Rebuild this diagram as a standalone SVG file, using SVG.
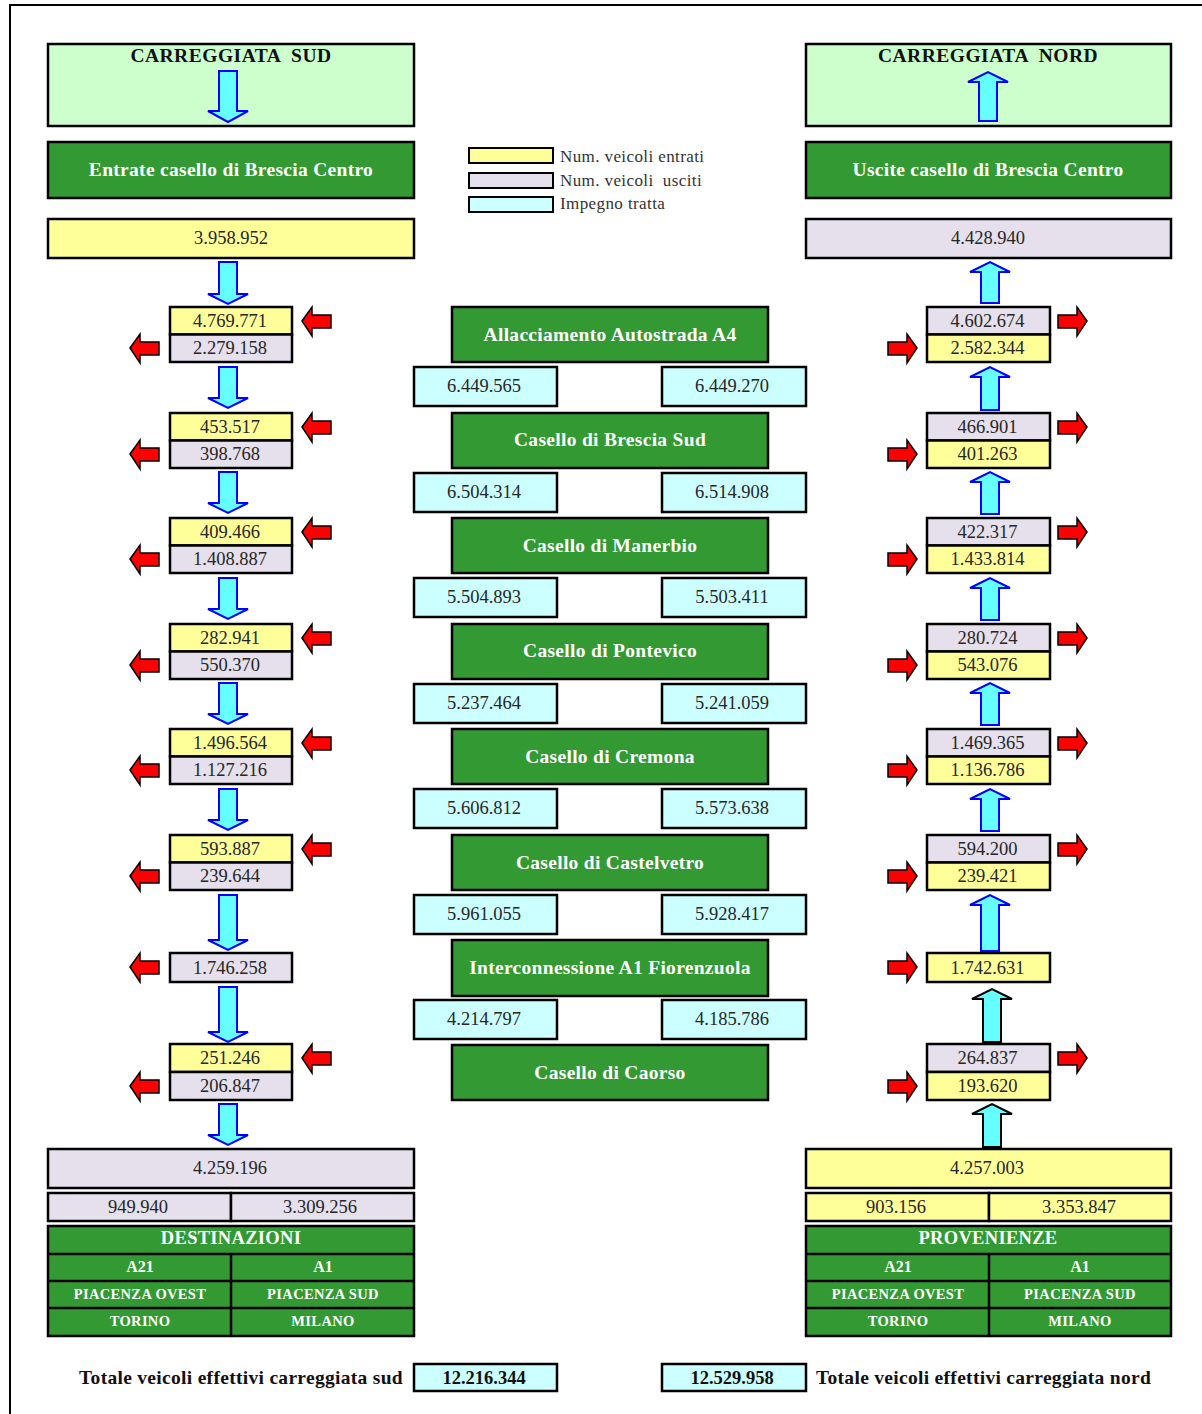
<svg xmlns="http://www.w3.org/2000/svg" xmlns:xlink="http://www.w3.org/1999/xlink" width="1202" height="1414" viewBox="0 0 1202 1414">
<style>
.b{stroke:#000;stroke-width:2.5}
.y{fill:#FFFF99}.p{fill:#E5E0EC}.c{fill:#CCFFFF}.g{fill:#339933}.lg{fill:#CCFFCC}
.t{font-family:"Liberation Serif",serif;font-size:18.5px;fill:#262626;text-anchor:middle}
.gt{font-family:"Liberation Serif",serif;font-size:19.5px;letter-spacing:0.3px;font-weight:bold;fill:#fff;text-anchor:middle}
.ht{font-family:"Liberation Serif",serif;font-size:19.5px;letter-spacing:0.5px;font-weight:bold;fill:#111;text-anchor:middle;white-space:pre}
.lt{font-family:"Liberation Serif",serif;font-size:17px;letter-spacing:0.4px;fill:#333;white-space:pre}
.tb1{font-family:"Liberation Serif",serif;font-size:18.5px;letter-spacing:0.3px;font-weight:bold;fill:#fff;text-anchor:middle}
.tb2{font-family:"Liberation Serif",serif;font-size:16px;font-weight:bold;fill:#fff;text-anchor:middle}
.tb3{font-family:"Liberation Serif",serif;font-size:14.5px;letter-spacing:0.35px;font-weight:bold;fill:#fff;text-anchor:middle}
.tot{font-family:"Liberation Serif",serif;font-size:19.5px;letter-spacing:0.3px;font-weight:bold;fill:#111}
.totn{font-family:"Liberation Serif",serif;font-size:18.5px;font-weight:bold;fill:#111;text-anchor:middle}
.ca{fill:#66FFFF;stroke:#0000FF;stroke-width:2}
.ck{fill:#66FFFF;stroke:#000;stroke-width:2}
.ra{fill:#FF0000;stroke:#000;stroke-width:1.5}
.tl{stroke:#000;stroke-width:2.5}
</style>
<defs>
<path id="rl" d="M0 0L10 -14V-6H29V7H10V15Z"/>
<path id="rr" d="M0 0L-10 -14V-6H-29V7H-10V15Z"/>
</defs>
<path d="M10 1414V5H1202" fill="none" stroke="#000" stroke-width="2"/>

<g id="header-sud">
<rect x="48" y="44" width="366" height="82" class="lg b"/>
<text x="231" y="62" class="ht">CARREGGIATA  SUD</text>
</g>
<g id="header-nord">
<rect x="806" y="44" width="365" height="82" class="lg b"/>
<text x="988" y="62" class="ht">CARREGGIATA  NORD</text>
</g>
<g id="entrate-bc">
<rect x="48" y="142" width="366" height="56" class="g b"/>
<text x="231" y="176" class="gt">Entrate casello di Brescia Centro</text>
</g>
<g id="uscite-bc">
<rect x="806" y="142" width="365" height="56" class="g b"/>
<text x="988" y="176" class="gt">Uscite casello di Brescia Centro</text>
</g>
<g id="legend">
<rect x="469" y="148" width="84" height="15" class="y" stroke="#000" stroke-width="2"/>
<rect x="469" y="173" width="84" height="15" class="p" stroke="#000" stroke-width="2"/>
<rect x="469" y="197" width="84" height="15" class="c" stroke="#000" stroke-width="2"/>
<text x="560" y="162" class="lt">Num. veicoli entrati</text>
<text x="560" y="186" class="lt">Num. veicoli  usciti</text>
<text x="560" y="209" class="lt">Impegno tratta</text>
</g>
<g id="in-sud">
<rect x="48" y="219" width="366" height="39" class="y b"/>
<text x="231" y="244" class="t">3.958.952</text>
</g>
<g id="out-nord">
<rect x="806" y="219" width="365" height="39" class="p b"/>
<text x="988" y="244" class="t">4.428.940</text>
</g>

<g id="sud-1"><rect x="170" y="307" width="122" height="27.5" class="y b"/><rect x="170" y="334.5" width="122" height="27.5" class="p b"/><text x="230" y="327" class="t">4.769.771</text><text x="230" y="354" class="t">2.279.158</text></g>
<g id="sud-2"><rect x="170" y="413" width="122" height="27.5" class="y b"/><rect x="170" y="440.5" width="122" height="27.5" class="p b"/><text x="230" y="433" class="t">453.517</text><text x="230" y="460" class="t">398.768</text></g>
<g id="sud-3"><rect x="170" y="518" width="122" height="27.5" class="y b"/><rect x="170" y="545.5" width="122" height="27.5" class="p b"/><text x="230" y="538" class="t">409.466</text><text x="230" y="565" class="t">1.408.887</text></g>
<g id="sud-4"><rect x="170" y="624" width="122" height="27.5" class="y b"/><rect x="170" y="651.5" width="122" height="27.5" class="p b"/><text x="230" y="644" class="t">282.941</text><text x="230" y="671" class="t">550.370</text></g>
<g id="sud-5"><rect x="170" y="729" width="122" height="27.5" class="y b"/><rect x="170" y="756.5" width="122" height="27.5" class="p b"/><text x="230" y="749" class="t">1.496.564</text><text x="230" y="776" class="t">1.127.216</text></g>
<g id="sud-6"><rect x="170" y="835" width="122" height="27.5" class="y b"/><rect x="170" y="862.5" width="122" height="27.5" class="p b"/><text x="230" y="855" class="t">593.887</text><text x="230" y="882" class="t">239.644</text></g>
<g id="sud-7"><rect x="170" y="953" width="122" height="29" class="p b"/><text x="230" y="974" class="t">1.746.258</text></g>
<g id="sud-8"><rect x="170" y="1044" width="122" height="28" class="y b"/><rect x="170" y="1072" width="122" height="28" class="p b"/><text x="230" y="1064" class="t">251.246</text><text x="230" y="1092" class="t">206.847</text></g>

<g id="nord-1"><rect x="927" y="307" width="123" height="27.5" class="p b"/><rect x="927" y="334.5" width="123" height="27.5" class="y b"/><text x="987.5" y="327" class="t">4.602.674</text><text x="987.5" y="354" class="t">2.582.344</text></g>
<g id="nord-2"><rect x="927" y="413" width="123" height="27.5" class="p b"/><rect x="927" y="440.5" width="123" height="27.5" class="y b"/><text x="987.5" y="433" class="t">466.901</text><text x="987.5" y="460" class="t">401.263</text></g>
<g id="nord-3"><rect x="927" y="518" width="123" height="27.5" class="p b"/><rect x="927" y="545.5" width="123" height="27.5" class="y b"/><text x="987.5" y="538" class="t">422.317</text><text x="987.5" y="565" class="t">1.433.814</text></g>
<g id="nord-4"><rect x="927" y="624" width="123" height="27.5" class="p b"/><rect x="927" y="651.5" width="123" height="27.5" class="y b"/><text x="987.5" y="644" class="t">280.724</text><text x="987.5" y="671" class="t">543.076</text></g>
<g id="nord-5"><rect x="927" y="729" width="123" height="27.5" class="p b"/><rect x="927" y="756.5" width="123" height="27.5" class="y b"/><text x="987.5" y="749" class="t">1.469.365</text><text x="987.5" y="776" class="t">1.136.786</text></g>
<g id="nord-6"><rect x="927" y="835" width="123" height="27.5" class="p b"/><rect x="927" y="862.5" width="123" height="27.5" class="y b"/><text x="987.5" y="855" class="t">594.200</text><text x="987.5" y="882" class="t">239.421</text></g>
<g id="nord-7"><rect x="927" y="953" width="123" height="29" class="y b"/><text x="987.5" y="974" class="t">1.742.631</text></g>
<g id="nord-8"><rect x="927" y="1044" width="123" height="28" class="p b"/><rect x="927" y="1072" width="123" height="28" class="y b"/><text x="987.5" y="1064" class="t">264.837</text><text x="987.5" y="1092" class="t">193.620</text></g>

<g id="st-1"><rect x="452" y="307" width="316" height="55" class="g b"/><text x="610" y="341" class="gt">Allacciamento Autostrada A4</text></g>
<g id="tr-1"><rect x="414" y="367" width="143" height="39" class="c b"/><rect x="662" y="367" width="144" height="39" class="c b"/><text x="484" y="392" class="t">6.449.565</text><text x="732" y="392" class="t">6.449.270</text></g>
<g id="st-2"><rect x="452" y="413" width="316" height="55" class="g b"/><text x="610" y="446" class="gt">Casello di Brescia Sud</text></g>
<g id="tr-2"><rect x="414" y="473" width="143" height="39" class="c b"/><rect x="662" y="473" width="144" height="39" class="c b"/><text x="484" y="498" class="t">6.504.314</text><text x="732" y="498" class="t">6.514.908</text></g>
<g id="st-3"><rect x="452" y="518" width="316" height="55" class="g b"/><text x="610" y="552" class="gt">Casello di Manerbio</text></g>
<g id="tr-3"><rect x="414" y="578" width="143" height="39" class="c b"/><rect x="662" y="578" width="144" height="39" class="c b"/><text x="484" y="603" class="t">5.504.893</text><text x="732" y="603" class="t">5.503.411</text></g>
<g id="st-4"><rect x="452" y="624" width="316" height="55" class="g b"/><text x="610" y="657" class="gt">Casello di Pontevico</text></g>
<g id="tr-4"><rect x="414" y="684" width="143" height="39" class="c b"/><rect x="662" y="684" width="144" height="39" class="c b"/><text x="484" y="709" class="t">5.237.464</text><text x="732" y="709" class="t">5.241.059</text></g>
<g id="st-5"><rect x="452" y="729" width="316" height="55" class="g b"/><text x="610" y="763" class="gt">Casello di Cremona</text></g>
<g id="tr-5"><rect x="414" y="789" width="143" height="39" class="c b"/><rect x="662" y="789" width="144" height="39" class="c b"/><text x="484" y="814" class="t">5.606.812</text><text x="732" y="814" class="t">5.573.638</text></g>
<g id="st-6"><rect x="452" y="835" width="316" height="55" class="g b"/><text x="610" y="869" class="gt">Casello di Castelvetro</text></g>
<g id="tr-6"><rect x="414" y="895" width="143" height="39" class="c b"/><rect x="662" y="895" width="144" height="39" class="c b"/><text x="484" y="920" class="t">5.961.055</text><text x="732" y="920" class="t">5.928.417</text></g>
<g id="st-7"><rect x="452" y="940" width="316" height="56" class="g b"/><text x="610" y="974" class="gt">Interconnessione A1 Fiorenzuola</text></g>
<g id="tr-7"><rect x="414" y="1000" width="143" height="39" class="c b"/><rect x="662" y="1000" width="144" height="39" class="c b"/><text x="484" y="1025" class="t">4.214.797</text><text x="732" y="1025" class="t">4.185.786</text></g>
<g id="st-8"><rect x="452" y="1045" width="316" height="55" class="g b"/><text x="610" y="1079" class="gt">Casello di Caorso</text></g>

<g id="out-sud">
<rect x="48" y="1149" width="366" height="39" class="p b"/>
<text x="230" y="1174" class="t">4.259.196</text>
<rect x="48" y="1193" width="183" height="28" class="p b"/>
<rect x="231" y="1193" width="183" height="28" class="p b"/>
<text x="138" y="1213" class="t">949.940</text>
<text x="320" y="1213" class="t">3.309.256</text>
</g>
<g id="destinazioni">
<rect x="48" y="1226" width="366" height="110" class="g b"/>
<path d="M48 1254H414M48 1281H414M48 1308H414M231 1254V1336" class="tl"/>
<text x="231" y="1244" class="tb1">DESTINAZIONI</text>
<text x="140" y="1272" class="tb2">A21</text>
<text x="323" y="1272" class="tb2">A1</text>
<text x="140" y="1299" class="tb3">PIACENZA OVEST</text>
<text x="323" y="1299" class="tb3">PIACENZA SUD</text>
<text x="140" y="1326" class="tb3">TORINO</text>
<text x="323" y="1326" class="tb3">MILANO</text>
</g>
<g id="in-nord">
<rect x="806" y="1149" width="365" height="39" class="y b"/>
<text x="987" y="1174" class="t">4.257.003</text>
<rect x="806" y="1193" width="183" height="28" class="y b"/>
<rect x="989" y="1193" width="182" height="28" class="y b"/>
<text x="896" y="1213" class="t">903.156</text>
<text x="1079" y="1213" class="t">3.353.847</text>
</g>
<g id="provenienze">
<rect x="806" y="1226" width="365" height="110" class="g b"/>
<path d="M806 1254H1171M806 1281H1171M806 1308H1171M989 1254V1336" class="tl"/>
<text x="988" y="1244" class="tb1">PROVENIENZE</text>
<text x="898" y="1272" class="tb2">A21</text>
<text x="1080" y="1272" class="tb2">A1</text>
<text x="898" y="1299" class="tb3">PIACENZA OVEST</text>
<text x="1080" y="1299" class="tb3">PIACENZA SUD</text>
<text x="898" y="1326" class="tb3">TORINO</text>
<text x="1080" y="1326" class="tb3">MILANO</text>
</g>
<g id="totale-sud">
<text x="403" y="1384" class="tot" text-anchor="end">Totale veicoli effettivi carreggiata sud</text>
<rect x="414" y="1364" width="143" height="27" class="c b"/>
<text x="484" y="1384" class="totn">12.216.344</text>
</g>
<g id="totale-nord">
<rect x="662" y="1364" width="144" height="27" class="c b"/>
<text x="732" y="1384" class="totn">12.529.958</text>
<text x="816" y="1384" class="tot">Totale veicoli effettivi carreggiata nord</text>
</g>

<g id="connectors">
<path class="ca" d="M219 71H237V111H248L228 122L208 111H219Z"/>
<path class="ca" d="M979 121V82H968L988 72L1008 82H997V121Z"/>
<path class="ca" d="M219 262H237V294H248L228 304L208 294H219Z"/>
<path class="ca" d="M219 367H237V398H248L228 408L208 398H219Z"/>
<path class="ca" d="M219 472H237V503H248L228 513L208 503H219Z"/>
<path class="ca" d="M219 578H237V609H248L228 619L208 609H219Z"/>
<path class="ca" d="M219 683H237V714H248L228 724L208 714H219Z"/>
<path class="ca" d="M219 789H237V820H248L228 830L208 820H219Z"/>
<path class="ca" d="M219 895H237V940H248L228 950L208 940H219Z"/>
<path class="ca" d="M219 987H237V1032H248L228 1042L208 1032H219Z"/>
<path class="ca" d="M219 1104H237V1135H248L228 1145L208 1135H219Z"/>
<path class="ca" d="M981 303V272H970L990 262L1010 272H999V303Z"/>
<path class="ca" d="M981 410V377H970L990 367L1010 377H999V410Z"/>
<path class="ca" d="M981 514V482H970L990 472L1010 482H999V514Z"/>
<path class="ca" d="M981 620V588H970L990 578L1010 588H999V620Z"/>
<path class="ca" d="M981 725V693H970L990 683L1010 693H999V725Z"/>
<path class="ca" d="M981 831V799H970L990 789L1010 799H999V831Z"/>
<path class="ca" d="M981 951V905H970L990 895L1010 905H999V951Z"/>
<path class="ck" d="M983 1042V999H972L992 989L1012 999H1001V1042Z"/>
<path class="ck" d="M983 1147V1114H972L992 1104L1012 1114H1001V1147Z"/>

<use xlink:href="#rl" x="302" y="321" class="ra"/>
<use xlink:href="#rl" x="130" y="348" class="ra"/>
<use xlink:href="#rl" x="302" y="427" class="ra"/>
<use xlink:href="#rl" x="130" y="454" class="ra"/>
<use xlink:href="#rl" x="302" y="532" class="ra"/>
<use xlink:href="#rl" x="130" y="559" class="ra"/>
<use xlink:href="#rl" x="302" y="638" class="ra"/>
<use xlink:href="#rl" x="130" y="665" class="ra"/>
<use xlink:href="#rl" x="302" y="743" class="ra"/>
<use xlink:href="#rl" x="130" y="770" class="ra"/>
<use xlink:href="#rl" x="302" y="849" class="ra"/>
<use xlink:href="#rl" x="130" y="876" class="ra"/>
<use xlink:href="#rl" x="130" y="967" class="ra"/>
<use xlink:href="#rl" x="302" y="1058" class="ra"/>
<use xlink:href="#rl" x="130" y="1086" class="ra"/>

<use xlink:href="#rr" x="1087" y="321" class="ra"/>
<use xlink:href="#rr" x="917" y="348" class="ra"/>
<use xlink:href="#rr" x="1087" y="427" class="ra"/>
<use xlink:href="#rr" x="917" y="454" class="ra"/>
<use xlink:href="#rr" x="1087" y="532" class="ra"/>
<use xlink:href="#rr" x="917" y="559" class="ra"/>
<use xlink:href="#rr" x="1087" y="638" class="ra"/>
<use xlink:href="#rr" x="917" y="665" class="ra"/>
<use xlink:href="#rr" x="1087" y="743" class="ra"/>
<use xlink:href="#rr" x="917" y="770" class="ra"/>
<use xlink:href="#rr" x="1087" y="849" class="ra"/>
<use xlink:href="#rr" x="917" y="876" class="ra"/>
<use xlink:href="#rr" x="917" y="967" class="ra"/>
<use xlink:href="#rr" x="1087" y="1058" class="ra"/>
<use xlink:href="#rr" x="917" y="1086" class="ra"/>
</g>
</svg>
